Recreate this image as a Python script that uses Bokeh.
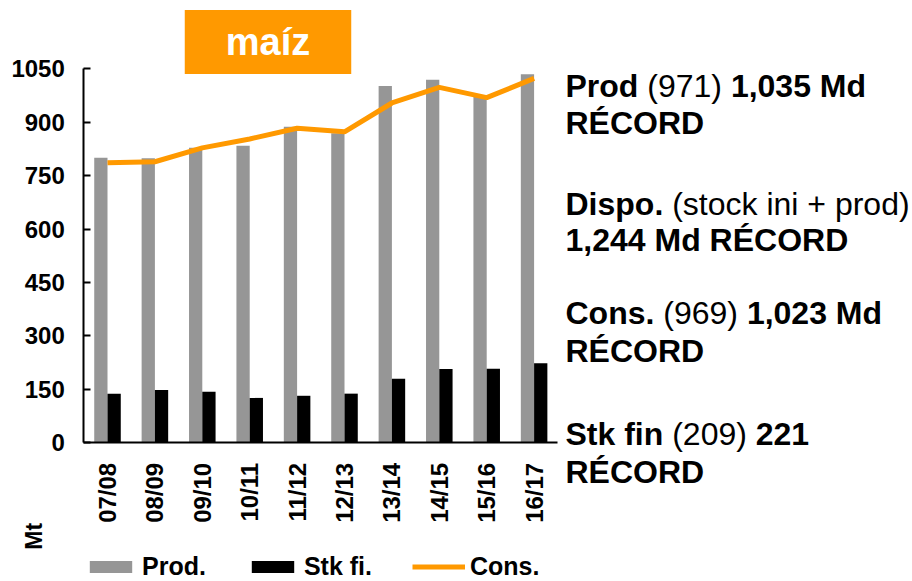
from bokeh.plotting import figure
from bokeh.models import (Range1d, FixedTicker, Label, Legend, LegendItem, ColumnDataSource,
                          LinearAxis)
from bokeh.transform import dodge
from bokeh.embed import file_html
from bokeh.resources import INLINE

# ---------------- data ----------------
seasons = ["07/08", "08/09", "09/10", "10/11", "11/12", "12/13", "13/14", "14/15", "15/16", "16/17"]
prod = [800, 799, 828, 834, 887, 869, 1002, 1019, 971, 1035]
stk_fin = [138, 148, 143, 126, 132, 138, 180, 207, 208, 223]
cons = [786, 789, 828, 853, 883, 873, 954, 998, 969, 1023]
y_ticks = [0, 150, 300, 450, 600, 750, 900, 1050]
legend_labels = ["Prod.", "Stk fi.", "Cons."]
title_text = "maíz"
unit_text = "Mt"
note_lines = [
    [("Prod ", True), ("(971) ", False), ("1,035 Md", True)],
    [("RÉCORD", True)],
    [("Dispo. ", True), ("(stock ini + prod)", False)],
    [("1,244 Md RÉCORD", True)],
    [("Cons. ", True), ("(969) ", False), ("1,023 Md", True)],
    [("RÉCORD", True)],
    [("Stk fin ", True), ("(209) ", False), ("221", True)],
    [("RÉCORD", True)],
]

# ---------------- layout / style ----------------
W, H = 912, 581
AX_LEFT, AX_BOTTOM = 83.3, 442.3      # pixel position of the axes corner
CAT_PX = 47.4                         # pixels per category
VAL_PX = 374.0 / 1050.0               # pixels per Mt
FONT = "Liberation Sans"
ORANGE = "#FF9900"
GRAY = "#969696"
BLACK = "#000000"

# Arial / Liberation Sans advance widths (per 1000 em)
REG = {" ": 278, "(": 333, ")": 333, "+": 584, "c": 500, "d": 556, "i": 222, "k": 500,
       "n": 556, "o": 556, "p": 556, "r": 333, "s": 500, "t": 278}
REG.update({str(d): 556 for d in range(10)})
BOLD = {" ": 278, ",": 278, ".": 278, "C": 722, "D": 722, "É": 667, "M": 833, "O": 778,
        "P": 667, "R": 722, "S": 667, "d": 611, "f": 333, "i": 278, "k": 556, "n": 611,
        "o": 611, "p": 611, "r": 389, "s": 556, "t": 333}
BOLD.update({str(d): 556 for d in range(10)})


def text_width(s, bold, size):
    table = BOLD if bold else REG
    return sum(table.get(ch, 556) for ch in s) * size / 1000.0


def sy(py):  # page pixel (from top) -> screen units (from bottom of frame)
    return H - py


idx = list(range(len(seasons)))
src = ColumnDataSource(dict(idx=idx, prod=prod, stk=stk_fin, cons=cons))

x0 = -AX_LEFT / CAT_PX - 0.5
x1 = (W - AX_LEFT) / CAT_PX - 0.5
y1 = AX_BOTTOM / VAL_PX
y0 = -(H - AX_BOTTOM) / VAL_PX

p = figure(
    width=W, height=H,
    x_range=Range1d(x0, x1), y_range=Range1d(y0, y1),
    x_axis_type=None, y_axis_type=None,
    output_backend="svg", toolbar_location=None,
    min_border=0, outline_line_color=None,
    background_fill_color="white", border_fill_color="white",
)
p.grid.visible = False

r_prod = p.vbar(x=dodge("idx", -0.14), top="prod", width=0.28,
                source=src, fill_color=GRAY, line_color=None)
r_stk = p.vbar(x=dodge("idx", 0.14), top="stk", width=0.28,
               source=src, fill_color=BLACK, line_color=None)
r_cons = p.line(x="idx", y="cons", source=src, line_color=ORANGE, line_width=5)

# y axis
yax = LinearAxis(fixed_location=-0.5, bounds=(0, 1050), ticker=FixedTicker(ticks=y_ticks))
yax.minor_tick_line_color = None
yax.major_tick_in = 7
yax.major_tick_out = 0
yax.major_tick_line_width = 2
yax.major_tick_line_color = BLACK
yax.axis_line_width = 2
yax.axis_line_color = BLACK
yax.major_label_standoff = 19
yax.major_label_text_font = FONT
yax.major_label_text_font_style = "bold"
yax.major_label_text_font_size = "24px"
yax.major_label_text_color = BLACK
p.add_layout(yax, "left")

# x axis (categories)
xax = LinearAxis(fixed_location=0, bounds=(-0.5, len(seasons) - 0.5),
                 ticker=FixedTicker(ticks=idx),
                 major_label_overrides={i: s for i, s in zip(idx, seasons)})
xax.major_tick_line_color = None
xax.minor_tick_line_color = None
xax.axis_line_width = 2
xax.axis_line_color = BLACK
xax.major_label_orientation = 1.5708
xax.major_label_standoff = 14
xax.major_label_text_font = FONT
xax.major_label_text_font_style = "bold"
xax.major_label_text_font_size = "24px"
xax.major_label_text_color = BLACK
p.add_layout(xax, "below")

# title box
p.add_layout(Label(
    x=267.5, y=sy(41.4), x_units="screen", y_units="screen", text=title_text,
    text_align="center", text_baseline="middle", text_color="white",
    text_font=FONT, text_font_style="bold", text_font_size="38px",
    background_fill_color=ORANGE, padding=dict(left=41, right=41, top=11, bottom=11),
))

# unit label
p.add_layout(Label(
    x=33.3, y=sy(535.8), x_units="screen", y_units="screen", text=unit_text, angle=1.5708,
    text_align="center", text_baseline="middle", text_color=BLACK,
    text_font=FONT, text_font_style="bold", text_font_size="23px",
))

# right-hand notes (vertical centres of each text line)
NOTE_SIZE = 32
note_x0 = 565
note_centres = [85, 122, 203, 239, 312, 350, 433, 471]
for line, yc in zip(note_lines, note_centres):
    x = note_x0
    for seg, bold in line:
        p.add_layout(Label(
            x=x, y=sy(yc), x_units="screen", y_units="screen", text=seg.rstrip(),
            text_align="left", text_baseline="middle", text_color=BLACK,
            text_font=FONT, text_font_style="bold" if bold else "normal",
            text_font_size=f"{NOTE_SIZE}px",
        ))
        x += text_width(seg, bold, NOTE_SIZE)

# legend
legend = Legend(
    items=[LegendItem(label=legend_labels[0], renderers=[r_prod]),
           LegendItem(label=legend_labels[1], renderers=[r_stk]),
           LegendItem(label=legend_labels[2], renderers=[r_cons])],
    orientation="horizontal", location=(84, 0),
    glyph_width=53, glyph_height=15, label_standoff=5, spacing=40,
    padding=0, margin=0, border_line_alpha=0, background_fill_alpha=0,
    label_text_font=FONT, label_text_font_style="bold", label_text_font_size="25px",
    label_text_color=BLACK, label_height=15,
)
p.add_layout(legend)

open("out.html", "w").write(file_html(p, INLINE))
